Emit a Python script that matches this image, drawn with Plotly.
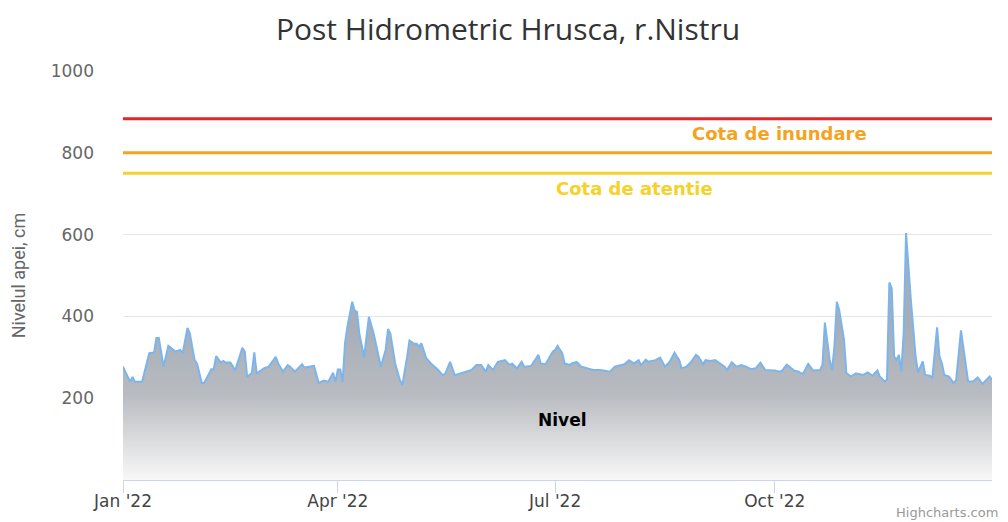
import pandas as pd
import plotly.graph_objects as go

# Day offsets from 2022-01-01 and water level (cm)
day_offsets = [
    0, 3, 4, 5, 8, 11, 13, 14, 15, 17, 19, 21, 22, 24, 25, 27, 28, 30, 31, 33, 34, 37, 38, 39,
    41, 42, 43, 45, 46, 47, 50, 51, 52, 54, 55, 56, 59, 61, 64, 65, 67, 69, 70, 72, 75, 76, 78,
    80, 82, 84, 86, 88, 89, 90, 91, 92, 93, 94, 96, 97, 98, 99, 101, 102, 103, 105, 107, 108,
    110, 111, 112, 114, 116, 117, 119, 120, 122, 123, 124, 125, 127, 129, 132, 134, 135, 137,
    139, 141, 144, 146, 148, 150, 152, 153, 155, 157, 160, 162, 163, 165, 167, 168, 171, 174,
    175, 177, 180, 181, 182, 184, 185, 187, 188, 190, 192, 195, 197, 200, 204, 206, 210, 212,
    214, 216, 217, 219, 220, 223, 225, 227, 229, 231, 233, 234, 236, 238, 240, 241, 243, 244,
    246, 248, 250, 252, 253, 255, 257, 259, 261, 263, 265, 267, 269, 271, 273, 275, 276, 278,
    281, 283, 284, 285, 287, 289, 292, 293, 294, 296, 297, 298, 299, 300, 302, 303, 305, 307,
    310, 312, 314, 316, 317, 319, 320, 321, 322, 323, 324, 325, 326, 327, 328, 330, 332, 333,
    335, 336, 338, 339, 341, 342, 343, 344, 346, 348, 349, 351, 352, 354, 356, 358, 360, 363, 364,
]
levels = [
    277, 240, 252, 240, 240, 310, 312, 347, 347, 277, 328, 318, 314, 318, 310, 372, 358, 293, 285, 237, 237, 271, 271, 303,
    287, 291, 287, 287, 277, 268, 323, 314, 252, 262, 312, 260, 273, 277, 301, 285, 265, 281, 277, 265, 283, 275, 277,
    279, 237, 243, 240, 262, 240, 270, 270, 240, 335, 375, 436, 415, 411, 358, 301, 350, 399, 358, 301, 277,
    318, 369, 358, 285, 244, 232, 301, 341, 333, 333, 326, 334, 298, 285, 269, 256, 260, 289,
    256, 260, 265, 269, 281, 281, 265, 281, 269, 289, 293, 281, 285, 273, 289, 277, 279, 306,
    285, 283, 314, 318, 328, 310, 285, 281, 285, 289, 277, 273, 269, 269, 265, 277, 283, 293,
    285, 293, 281, 294, 289, 293, 299, 277, 289, 311, 293, 273, 277, 289, 306, 302, 283, 293,
    291, 293, 285, 277, 269, 288, 277, 281, 277, 271, 273, 287, 269, 269, 268, 265, 267, 282,
    268, 265, 261, 261, 284, 268, 269, 282, 385, 294, 268, 327, 436, 416, 343, 261, 253, 261,
    257, 263, 255, 268, 253, 241, 245, 483, 469, 302, 294, 306, 265, 359, 604, 441, 302, 263,
    290, 257, 255, 249, 373, 302, 286, 257, 253, 237, 245, 366, 327, 241, 241, 251, 235, 253, 245,
]

start_date = "2022-01-01"
tick_dates = ["2022-01-01", "2022-04-01", "2022-07-01", "2022-10-01"]
tick_labels = ["Jan '22", "Apr '22", "Jul '22", "Oct '22"]
y_ticks = [200, 400, 600, 800, 1000]

flood_level = 800      # Cota de inundare
alert_level = 750      # Cota de atentie
danger_level = 883     # red line

dates = pd.to_datetime(start_date) + pd.to_timedelta(day_offsets, unit="D")

fig = go.Figure()
fig.add_trace(go.Scatter(
    x=dates, y=levels, mode="lines", name="Nivel",
    line=dict(color="#7cb5ec", width=2),
    fill="tozeroy",
    fillgradient=dict(type="vertical", start=0, stop=380,
                      colorscale=[[0, "#f8f8f8"], [0.55, "#b8bbc0"], [1, "#a7aeb8"]]),
    hoverinfo="x+y",
))

x0 = pd.Timestamp("2022-01-01")
x1 = pd.Timestamp("2022-12-31")
for val, col in [(danger_level, "#e0262b"), (flood_level, "#f5a31f"), (alert_level, "#f4d22a")]:
    fig.add_shape(type="line", xref="paper", x0=0, x1=1, yref="y", y0=val, y1=val,
                  line=dict(color=col, width=3), layer="above")

fig.add_annotation(x=0.755, xref="paper", xanchor="center", y=flood_level, yref="y",
                   text="<b>Cota de inundare</b>", showarrow=False, yshift=19,
                   font=dict(family="DejaVu Sans", size=18, color="#f5a31f"))
fig.add_annotation(x=0.589, xref="paper", xanchor="center", y=alert_level, yref="y",
                   text="<b>Cota de atentie</b>", showarrow=False, yshift=-15,
                   font=dict(family="DejaVu Sans", size=18, color="#f4d22a"))
fig.add_annotation(x=pd.Timestamp("2022-07-04"), y=147, text="<b>Nivel</b>", showarrow=False,
                   font=dict(family="DejaVu Sans", size=17, color="#000000"))
fig.add_annotation(x=1, xref="paper", y=0, yref="paper", text="Highcharts.com", showarrow=False,
                   xanchor="right", yanchor="bottom", yshift=-42, xshift=8,
                   font=dict(family="DejaVu Sans", size=13, color="#999999"))

# The page body has an 8px margin, so the figure is 1000x514 to fill the 1008x522 window
fig.update_layout(
    width=1000, height=514,
    margin=dict(l=115, r=16, t=63, b=42),
    paper_bgcolor="white", plot_bgcolor="white",
    showlegend=False,
    title=dict(text="Post Hidrometric Hrusca, r.Nistru", x=0.5, xanchor="center", y=0.978, yanchor="top",
               font=dict(family="Open Sans, sans-serif", size=30, color="#333333")),
    xaxis=dict(
        range=[x0, x1], tickvals=pd.to_datetime(tick_dates), ticktext=tick_labels,
        showgrid=False, showline=True, linecolor="#ccd6eb", linewidth=1,
        ticks="outside", ticklen=12, tickcolor="#ccd6eb",
        ticklabelstandoff=-6,
        tickfont=dict(family="DejaVu Sans", size=17, color="#444444"),
        zeroline=False, automargin=False,
    ),
    yaxis=dict(
        range=[0, 1000], tickvals=y_ticks, showgrid=True, gridcolor="#e6e6e6", gridwidth=1,
        zeroline=False, showline=False, ticks="",
        tickfont=dict(family="DejaVu Sans", size=17, color="#666666"),
        ticklabelstandoff=28, automargin=False,
        title=dict(text="Nivelul apei, cm", standoff=20,
                   font=dict(family="Roboto, sans-serif", size=18, color="#666666")),
    ),
)

fig.write_html("out.html")
